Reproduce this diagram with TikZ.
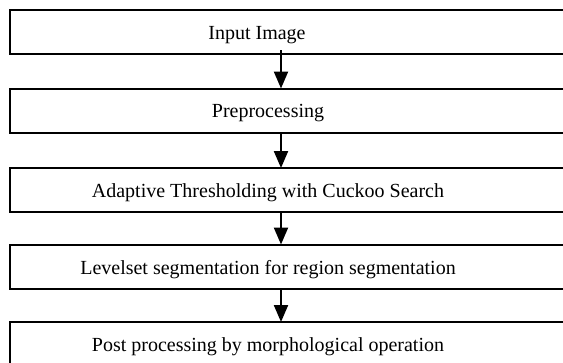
\documentclass[tikz,border=0pt]{standalone}
\usepackage{fontspec}
\setmainfont{Liberation Serif}
\usetikzlibrary{arrows.meta}
\begin{document}
\begin{tikzpicture}[x=1pt,y=-1pt,
  stage/.style={draw=black,line width=2pt,fill=white,rectangle,minimum width=610pt,minimum height=44pt,inner sep=0pt,outer sep=0pt},
  txt/.style={font=\fontsize{20}{24}\selectfont,yshift=-3pt},
  arr/.style={line width=2.2pt,-{Triangle[width=14pt,length=17pt]}}]
\fill[white] (0,0) rectangle (563,362);
\useasboundingbox (0,0) rectangle (563,362);
\clip (0,0) rectangle (563,362);
\node[stage,label={[txt,xshift=-58pt]center:Input Image}] (b1) at (315,32) {};
\node[stage,label={[txt,xshift=-47pt]center:Preprocessing}] (b2) at (315,110.5) {};
\node[stage,label={[txt,xshift=-47pt]center:Adaptive Thresholding with Cuckoo Search}] (b3) at (315,190) {};
\node[stage,label={[txt,xshift=-47pt]center:Levelset segmentation for region segmentation}] (b4) at (315,266.5) {};
\node[stage,label={[txt,xshift=-47pt]center:Post processing by morphological operation}] (b5) at (315,344) {};
\draw[arr] ([xshift=-34pt,yshift=4pt]b1.south) -- ([xshift=-34pt]b2.north);
\draw[arr] ([xshift=-34pt]b2.south) -- ([xshift=-34pt]b3.north);
\draw[arr] ([xshift=-34pt]b3.south) -- ([xshift=-34pt]b4.north);
\draw[arr] ([xshift=-34pt]b4.south) -- ([xshift=-34pt]b5.north);
\end{tikzpicture}
\end{document}
